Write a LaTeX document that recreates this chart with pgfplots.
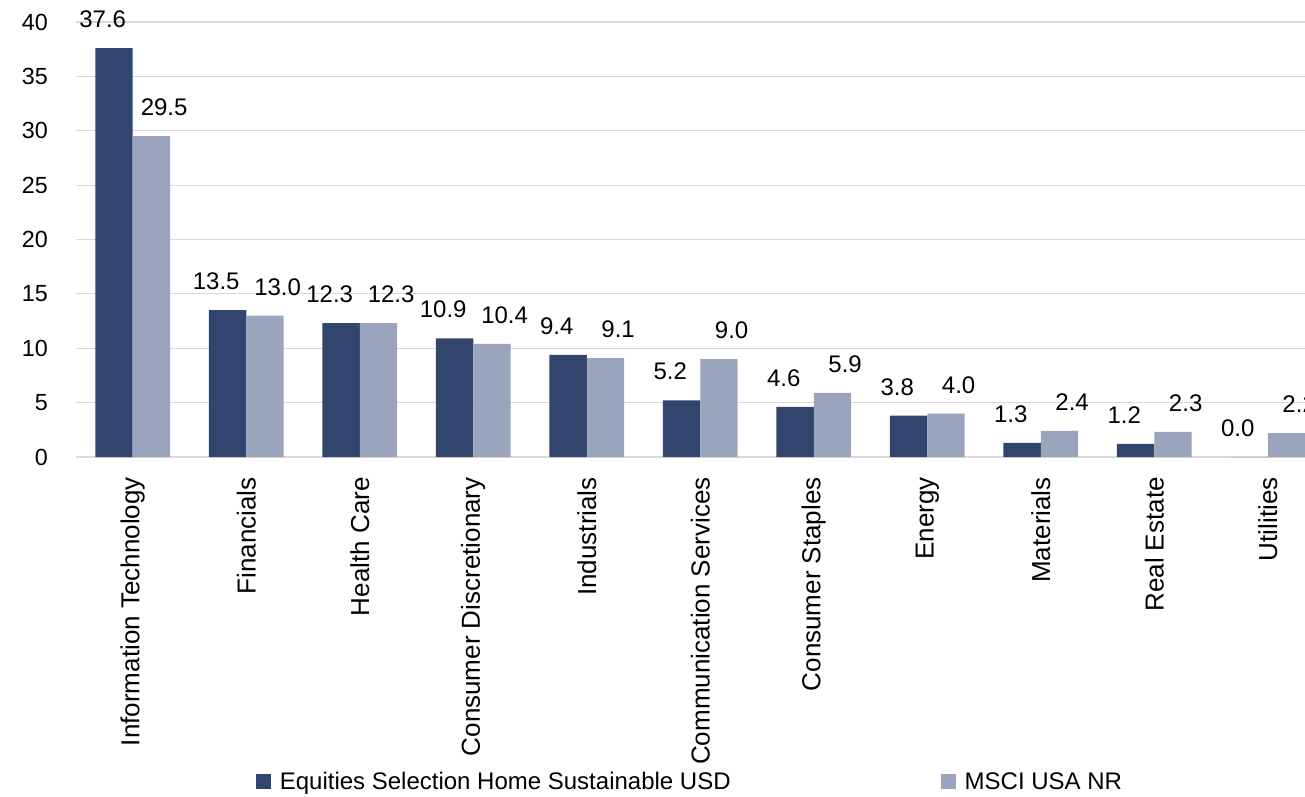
\documentclass[border=0pt]{standalone}
\usepackage{fontspec}
\setmainfont{Liberation Sans}
\usepackage{pgfplots}
\pgfplotsset{compat=1.18}
\definecolor{navy}{HTML}{32456E}
\definecolor{steel}{HTML}{9AA5BD}
\definecolor{gridgray}{HTML}{D9D9D9}

\begin{document}
\begin{tikzpicture}
\begin{axis}[
    x=85.125pt, y=8.156pt,
    xmin=-0.5, xmax=10.33,
    ymin=0, ymax=40,
    ybar=0pt, bar width=28.1pt,
    axis line style={draw=none},
    major tick length=0pt,
    ymajorgrids=true,
    grid style={color=gridgray, line width=0.9pt},
    ytick={0,5,...,40},
    xtick={0,...,10},
    xticklabels={Information Technology, Financials, Health Care,
        Consumer Discretionary, Industrials, Communication Services,
        Consumer Staples, Energy, Materials, Real Estate, Utilities},
    xticklabel style={rotate=90, anchor=east, inner sep=0pt,
        font=\fontsize{19.5}{22}\selectfont},
    xticklabel shift=15pt,
    yticklabel style={inner sep=0pt, anchor=east, xshift=-21pt,
        font=\fontsize{17.5}{20}\selectfont},
    /pgf/number format/assume math mode=true,
    nodes near coords={\pgfmathprintnumber[fixed,fixed zerofill,precision=1]{\pgfplotspointmeta}},
    every node near coord/.append style={anchor=south, inner sep=0pt, yshift=15pt,
        font=\fontsize{18}{20}\selectfont, text=black},
    legend style={at={(0.5,-0.747)}, anchor=center, draw=none,
        font=\fontsize{18}{20}\selectfont,
        /tikz/every even column/.append style={column sep=156pt}},
    legend columns=2,
    legend image code/.code={\fill[#1] (0pt,-5.6pt) rectangle (11.2pt,5.6pt);
        \path (15.5pt,0pt);},
]
\addplot[fill=navy, draw=none,
    every node near coord/.append style={xshift=-8.5pt}]
    coordinates {
    (0,37.6)(1,13.5)(2,12.3)(3,10.9)(4,9.4)(5,5.2)(6,4.6)(7,3.8)(8,1.3)(9,1.2)(10,0.0)
    };
\addplot[fill=steel, draw=none,
    every node near coord/.append style={xshift=9.5pt}]
    coordinates {
    (0,29.5)(1,13.0)(2,12.3)(3,10.4)(4,9.1)(5,9.0)(6,5.9)(7,4.0)(8,2.4)(9,2.3)(10,2.2)
    };
\legend{Equities Selection Home Sustainable USD, MSCI USA NR}
\end{axis}
\pgfresetboundingbox
\useasboundingbox (-57pt,-254.25pt) rectangle (921.75pt,342.75pt);
\end{tikzpicture}
\end{document}
